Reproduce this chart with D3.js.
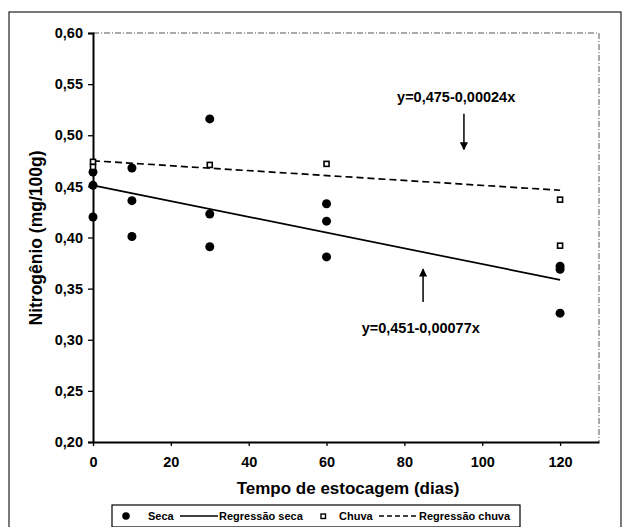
<!DOCTYPE html>
<html>
<head>
<meta charset="utf-8">
<script src="https://cdn.jsdelivr.net/npm/d3@7"></script>
<style>
  body { margin: 0; background: #fff; }
  svg { font-family: "Liberation Sans", Arial, sans-serif; }
</style>
</head>
<body>
<svg id="chart" width="629" height="527"></svg>
<script>
// dados
const secaX = [0, 0, 0, 10, 10, 10, 30, 30, 30, 60, 60, 60, 120, 120, 120];
const secaY = [0.464, 0.451, 0.420, 0.468, 0.436, 0.401, 0.516, 0.423, 0.391, 0.433, 0.416, 0.381, 0.372, 0.369, 0.326];
const chuvaX = [0, 0, 30, 60, 120, 120];
const chuvaY = [0.474, 0.469, 0.471, 0.472, 0.437, 0.392];
const regSecaX = [0, 120];
const regSecaY = [0.451, 0.3586];
const regChuvaX = [0, 120];
const regChuvaY = [0.475, 0.4462];
const xTicks = [0, 20, 40, 60, 80, 100, 120];
const yTicks = [0.20, 0.25, 0.30, 0.35, 0.40, 0.45, 0.50, 0.55, 0.60];
const eqChuva = "y=0,475-0,00024x";
const eqSeca = "y=0,451-0,00077x";

const svg = d3.select("#chart");
const pLeft = 93, pRight = 599, pTop = 33, pBottom = 442;

const x = d3.scaleLinear().domain([0, 130]).range([pLeft, pRight]);
const y = d3.scaleLinear().domain([0.20, 0.60]).range([pBottom, pTop]);
const fmt = d => d3.format(".2f")(d).replace(".", ",");

// moldura externa
svg.append("rect").attr("x", 9).attr("y", 12).attr("width", 612).attr("height", 530)
    .attr("fill", "none").attr("stroke", "#222").attr("stroke-width", 1.2);

// borda da area do grafico (tracejada)
svg.append("path")
    .attr("d", `M${pLeft},${pTop}H${pRight}V${pBottom}`)
    .attr("fill", "none").attr("stroke", "#555").attr("stroke-width", 1)
    .attr("stroke-dasharray", "6,2,1,2");

// eixos
const gy = svg.append("g").attr("transform", `translate(${pLeft},0)`)
    .call(d3.axisLeft(y).tickValues(yTicks).tickFormat(fmt).tickSize(5).tickPadding(5));
const gx = svg.append("g").attr("transform", `translate(0,${pBottom})`)
    .call(d3.axisBottom(x).tickValues(xTicks).tickSize(4).tickPadding(11).tickSizeOuter(0));
[gx, gy].forEach(g => {
    g.select(".domain").attr("stroke", "#000").attr("stroke-width", 2);
    g.selectAll(".tick line").attr("stroke", "#000").attr("stroke-width", 1.3);
    g.selectAll("text").attr("font-size", 14.5).attr("font-weight", "bold").attr("fill", "#000")
        .attr("font-family", "Liberation Sans, Arial, sans-serif");
});

// titulos
svg.append("text").attr("x", 348).attr("y", 494)
    .attr("text-anchor", "middle").attr("font-size", 17).attr("font-weight", "bold")
    .text("Tempo de estocagem (dias)");
svg.append("text").attr("transform", `translate(42,238) rotate(-90)`)
    .attr("text-anchor", "middle").attr("font-size", 17.5).attr("font-weight", "bold")
    .text("Nitrogênio (mg/100g)");

// linhas de regressao
const line = d3.line().x(d => x(d[0])).y(d => y(d[1]));
svg.append("path").datum(d3.zip(regSecaX, regSecaY)).attr("d", line)
    .attr("fill", "none").attr("stroke", "#000").attr("stroke-width", 1.7);
svg.append("path").datum(d3.zip(regChuvaX, regChuvaY)).attr("d", line)
    .attr("fill", "none").attr("stroke", "#000").attr("stroke-width", 1.7)
    .attr("stroke-dasharray", "7,4");

// pontos
svg.append("g").selectAll("circle").data(d3.zip(secaX, secaY)).join("circle")
    .attr("cx", d => x(d[0])).attr("cy", d => y(d[1])).attr("r", 4.5).attr("fill", "#000");
svg.append("g").selectAll("rect").data(d3.zip(chuvaX, chuvaY)).join("rect")
    .attr("x", d => x(d[0]) - 2.5).attr("y", d => y(d[1]) - 2.5)
    .attr("width", 5).attr("height", 5).attr("fill", "#fff").attr("stroke", "#000").attr("stroke-width", 1.6);

// anotacoes
svg.append("defs").append("marker").attr("id", "head").attr("viewBox", "0 0 10 10")
    .attr("refX", 9).attr("refY", 5).attr("markerWidth", 5.5).attr("markerHeight", 5.5).attr("orient", "auto")
    .append("path").attr("d", "M0,0L10,5L0,10z").attr("fill", "#000");
svg.append("line").attr("x1", x(95.3)).attr("x2", x(95.3)).attr("y1", y(0.521)).attr("y2", y(0.486))
    .attr("stroke", "#000").attr("stroke-width", 1.5).attr("marker-end", "url(#head)");
svg.append("text").attr("x", x(93.3)).attr("y", 102).attr("text-anchor", "middle")
    .attr("font-size", 14.5).attr("font-weight", "bold").text(eqChuva);
svg.append("line").attr("x1", x(84.8)).attr("x2", x(84.8)).attr("y1", y(0.337)).attr("y2", y(0.369))
    .attr("stroke", "#000").attr("stroke-width", 1.5).attr("marker-end", "url(#head)");
svg.append("text").attr("x", x(84.2)).attr("y", 333).attr("text-anchor", "middle")
    .attr("font-size", 14.5).attr("font-weight", "bold").text(eqSeca);

// legenda
const lg = svg.append("g").attr("transform", "translate(112,505)");
lg.append("rect").attr("width", 408).attr("height", 22).attr("fill", "#fff")
    .attr("stroke", "#000").attr("stroke-width", 1.2);
lg.append("circle").attr("cx", 14).attr("cy", 11).attr("r", 3.8).attr("fill", "#000");
lg.append("text").attr("x", 36).attr("y", 15).attr("font-size", 11).attr("font-weight", "bold").text("Seca");
lg.append("line").attr("x1", 68).attr("x2", 106).attr("y1", 11).attr("y2", 11).attr("stroke", "#000").attr("stroke-width", 1.4);
lg.append("text").attr("x", 107).attr("y", 15).attr("font-size", 11).attr("font-weight", "bold").text("Regressão seca");
lg.append("rect").attr("x", 209).attr("y", 9).attr("width", 4.5).attr("height", 4.5).attr("fill", "#fff").attr("stroke", "#000").attr("stroke-width", 1.4);
lg.append("text").attr("x", 227).attr("y", 15).attr("font-size", 11).attr("font-weight", "bold").text("Chuva");
lg.append("line").attr("x1", 267).attr("x2", 305).attr("y1", 11).attr("y2", 11).attr("stroke", "#000").attr("stroke-width", 1.4).attr("stroke-dasharray", "5,3");
lg.append("text").attr("x", 307).attr("y", 15).attr("font-size", 11).attr("font-weight", "bold").text("Regressão chuva");
</script>
</body>
</html>
